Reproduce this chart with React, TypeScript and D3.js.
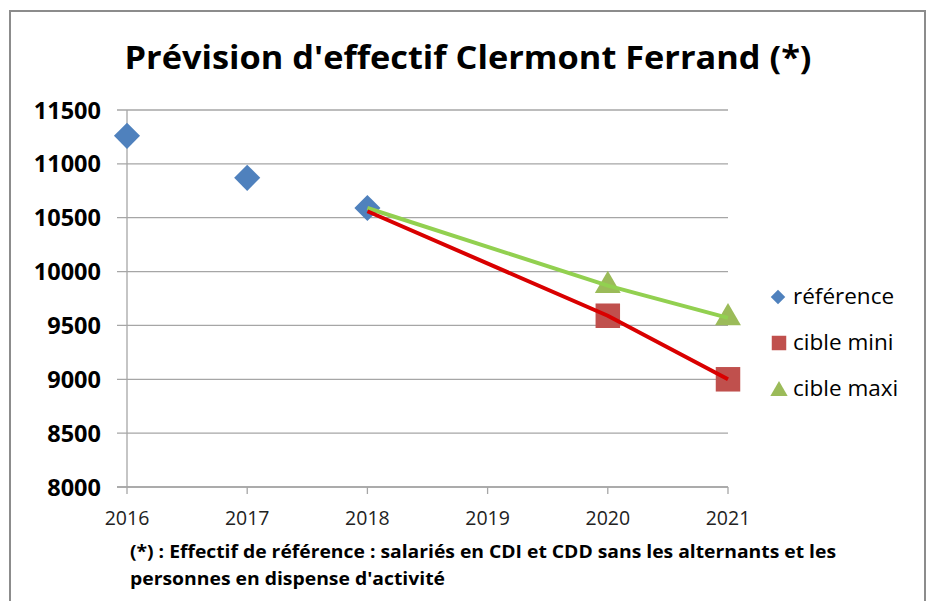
import React from "react";
import * as d3 from "d3";

// chart data
const title = "Prévision d'effectif Clermont Ferrand (*)";
const footnoteLines = [
  "(*) : Effectif de référence : salariés en CDI et CDD sans les alternants  et les",
  "personnes en dispense d'activité",
];
const xTicks = [2016, 2017, 2018, 2019, 2020, 2021];
const yTicks = [8000, 8500, 9000, 9500, 10000, 10500, 11000, 11500];

const refYears = [2016, 2017, 2018];
const refValues = [11260, 10870, 10590];

// line series start at 2018 (no marker there)
const miniYears = [2018, 2020, 2021];
const miniValues = [10560, 9590, 9000];
const maxiYears = [2018, 2020, 2021];
const maxiValues = [10590, 9870, 9570];

const legendLabels = ["référence", "cible mini", "cible maxi"];

const FONT = "'Open Sans', 'Liberation Sans', sans-serif";
const BLUE = "#4F81BD";
const RED = "#C0504D";
const GREEN = "#9BBB59";

const App: React.FC = () => {
  const width = 929;
  const height = 601;

  const x = d3.scaleLinear().domain([2016, 2021]).range([127, 728]);
  const y = d3.scaleLinear().domain([8000, 11500]).range([487, 110]);

  const line = d3
    .line<[number, number]>()
    .x((d) => x(d[0]))
    .y((d) => y(d[1]));

  // excel-style diamond = square turned 45deg
  const square = (s: number) => d3.symbol(d3.symbolSquare, s)();
  const triangle = (s: number) => d3.symbol(d3.symbolTriangle, s)();

  const miniPts = miniYears.map((yr, i) => [yr, miniValues[i]] as [number, number]);
  const maxiPts = maxiYears.map((yr, i) => [yr, maxiValues[i]] as [number, number]);

  const diamondBig = square(340);
  const squareBig = square(600);
  const triangleBig = triangle(290);

  const legendY = [297, 343, 389];

  return (
    <div style={{ position: "absolute", left: 0, top: 0 }}>
      <svg width={width} height={height} style={{ display: "block", background: "#fff" }}>
        {/* outer frame */}
        <path
          d={`M10,${height} V11 H925 V${height}`}
          fill="none"
          stroke="#8c8c8c"
          strokeWidth={2}
        />

        <text
          x={468}
          y={69}
          textAnchor="middle"
          fontFamily={FONT}
          fontWeight="bold"
          fontSize={32}
          textLength={687}
          lengthAdjust="spacingAndGlyphs"
          fill="#000"
        >
          {title}
        </text>

        {/* grid lines + y ticks */}
        {yTicks.map((t) => (
          <g key={t}>
            <line x1={117} x2={728} y1={y(t)} y2={y(t)} stroke="#a6a6a6" strokeWidth={1.3} />
            <text
              x={101}
              y={y(t) + 8.5}
              textAnchor="end"
              fontFamily={FONT}
              fontWeight="bold"
              fontSize={23.5}
              fill="#000"
            >
              {t}
            </text>
          </g>
        ))}

        {/* axes */}
        <line x1={x(2016)} x2={x(2016)} y1={110} y2={487} stroke="#a6a6a6" strokeWidth={1.3} />
        <line x1={117} x2={728} y1={y(8000)} y2={y(8000)} stroke="#a6a6a6" strokeWidth={1.3} />
        {xTicks.map((t) => (
          <g key={t}>
            <line x1={x(t)} x2={x(t)} y1={487} y2={494} stroke="#a6a6a6" strokeWidth={1.3} />
            <text
              x={x(t)}
              y={525}
              textAnchor="middle"
              fontFamily={FONT}
              fontSize={19.5}
              fill="#222"
            >
              {t}
            </text>
          </g>
        ))}

        {/* reference markers */}
        {refYears.map((yr, i) => (
          <path
            key={yr}
            d={diamondBig}
            transform={`translate(${x(yr)},${y(refValues[i])}) rotate(45)`}
            fill={BLUE}
          />
        ))}

        {/* target markers (skip 2018 start point) */}
        {miniPts.slice(1).map((p) => (
          <path key={p[0]} d={squareBig} transform={`translate(${x(p[0])},${y(p[1])})`} fill={RED} />
        ))}
        {maxiPts.slice(1).map((p) => (
          <path key={p[0]} d={triangleBig} transform={`translate(${x(p[0])},${y(p[1])})`} fill={GREEN} />
        ))}

        {/* target lines */}
        <path d={line(maxiPts) ?? ""} fill="none" stroke="#92D050" strokeWidth={4} />
        <path d={line(miniPts) ?? ""} fill="none" stroke="#D90000" strokeWidth={4} />

        {/* legend */}
        <path d={square(105)} transform={`translate(778,${legendY[0]}) rotate(45)`} fill={BLUE} />
        <path d={square(210)} transform={`translate(779,${legendY[1]})`} fill={RED} />
        <path d={triangle(130)} transform={`translate(779,${legendY[2] + 2})`} fill={GREEN} />
        {legendLabels.map((l, i) => (
          <text
            key={l}
            x={793}
            y={legendY[i] + 7}
            fontFamily={FONT}
            fontSize={22.5}
            fill="#000"
          >
            {l}
          </text>
        ))}

        {/* footnote */}
        {footnoteLines.map((l, i) => (
          <text
            key={i}
            x={130}
            y={558 + i * 27}
            fontFamily={FONT}
            fontWeight="bold"
            fontSize={17.5}
            textLength={i === 0 ? 706 : 315}
            lengthAdjust="spacingAndGlyphs"
            fill="#000"
          >
            {l}
          </text>
        ))}
      </svg>
    </div>
  );
};

export default App;
